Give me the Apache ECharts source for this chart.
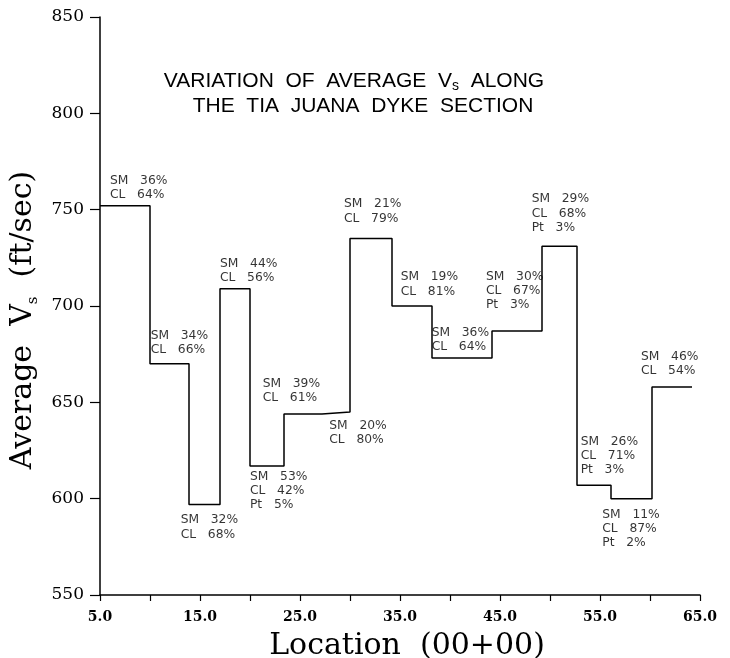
<!DOCTYPE html>
<html><head><meta charset="utf-8">
<script src="https://cdn.jsdelivr.net/npm/echarts@6/dist/echarts.min.js"></script>
<style>html,body{margin:0;padding:0;background:#fff}#c{width:730px;height:658px}</style>
</head><body><div id="c"></div>
<script>
// Segment boundaries along the dyke (Location, 00+00) and average Vs per segment (ft/sec)
const boundaries = [5, 10, 13.9, 17, 20, 23.4, 27.2, 30, 34.2, 38.2, 44.2, 49.2, 52.7, 56.1, 60.2, 64.2];
const avgVs = [752, 670, 597, 709, 617, 644, 645, 735, 700, 673, 687, 731, 607, 600, 658];

// Soil composition annotations (text, anchor location, anchor Vs)
const annotTexts = [
  "SM   36%\nCL   64%",
  "SM   34%\nCL   66%",
  "SM   32%\nCL   68%",
  "SM   44%\nCL   56%",
  "SM   53%\nCL   42%\nPt   5%",
  "SM   39%\nCL   61%",
  "SM   20%\nCL   80%",
  "SM   21%\nCL   79%",
  "SM   19%\nCL   81%",
  "SM   36%\nCL   64%",
  "SM   30%\nCL   67%\nPt   3%",
  "SM   29%\nCL   68%\nPt   3%",
  "SM   26%\nCL   71%\nPt   3%",
  "SM   11%\nCL   87%\nPt   2%",
  "SM   46%\nCL   54%"
];
const annotX = [6.0, 10.07, 13.07, 17.0, 20.0, 21.27, 27.93, 29.4, 35.07, 38.17, 43.6, 48.17, 53.07, 55.23, 59.1];
const annotY = [768.7, 688.2, 592.6, 725.5, 615.2, 663.3, 641.7, 756.6, 718.7, 690, 719, 759.2, 633.4, 595.4, 677.5];

const xTickLabels = ["5.0", "15.0", "25.0", "35.0", "45.0", "55.0", "65.0"];
const yTickLabels = ["550", "600", "650", "700", "750", "800", "850"];

const stepData = boundaries.slice(0, avgVs.length).map((b, i) => [b, avgVs[i]]);
stepData.push([boundaries[boundaries.length - 1], avgVs[avgVs.length - 1]]);

const chart = echarts.init(document.getElementById('c'), null, {renderer: 'canvas'});
chart.setOption({
  backgroundColor: '#fff',
  animation: false,
  grid: {left: 100, right: 30, top: 17, bottom: 63, containLabel: false, outerBoundsMode: 'none'},
  graphic: [
    {type: 'text', x: 354, y: 81, silent: true,
     style: {text: 'VARIATION  OF  AVERAGE  V{s|s}  ALONG', align: 'center', verticalAlign: 'middle',
       fontFamily: 'Liberation Sans', fontSize: 21, lineHeight: 25, fill: '#000',
       rich: {s: {fontFamily: 'Liberation Sans', fontSize: 14, lineHeight: 14, verticalAlign: 'bottom', fill: '#000'}}}},
    {type: 'text', x: 363, y: 106, silent: true,
     style: {text: 'THE  TIA  JUANA  DYKE  SECTION', align: 'center', verticalAlign: 'middle',
       fontFamily: 'Liberation Sans', fontSize: 21, lineHeight: 25, fill: '#000'}}
  ],
  xAxis: {
    type: 'value', min: 5, max: 65, interval: 5,
    name: 'Location  (00+00)', nameLocation: 'middle', nameGap: 28,
    nameTextStyle: {fontFamily: 'DejaVu Serif', fontSize: 30, lineHeight: 34, color: '#000', verticalAlign: 'top', padding: [0, 0, 0, 14]},
    axisLine: {show: true, onZero: false, lineStyle: {color: '#000', width: 1.5}},
    axisTick: {show: true, length: 6, lineStyle: {color: '#000', width: 1.2}},
    axisLabel: {
      margin: 15, color: '#000', fontFamily: 'DejaVu Serif', fontWeight: 'bold', fontSize: 14,
      formatter: function (v) {
        const idx = xTickLabels.indexOf(v.toFixed(1));
        return idx >= 0 ? xTickLabels[idx] : '';
      }
    },
    splitLine: {show: false}
  },
  yAxis: {
    type: 'value', min: 550, max: 850, interval: 50,
    name: 'Average  V{s|s}  (ft/sec)', nameLocation: 'middle', nameGap: 57, nameRotate: 90,
    nameTextStyle: {fontFamily: 'DejaVu Serif', fontSize: 30, color: '#000', lineHeight: 34, padding: [0, 28, 0, 0],
      rich: {s: {fontFamily: 'DejaVu Serif', fontSize: 15, lineHeight: 15, verticalAlign: 'bottom', color: '#000'}}},
    axisLine: {show: true, lineStyle: {color: '#000', width: 1.5}},
    axisTick: {show: true, length: 10, lineStyle: {color: '#000', width: 1.2}},
    axisLabel: {
      margin: 16, color: '#000', fontFamily: 'DejaVu Serif', fontSize: 17,
      formatter: function (v) {
        const idx = yTickLabels.indexOf(String(Math.round(v)));
        return idx >= 0 ? yTickLabels[idx] : '';
      }
    },
    splitLine: {show: false}
  },
  series: [
    {
      type: 'line', step: 'end', data: stepData, showSymbol: false, symbol: 'none',
      lineStyle: {color: '#000', width: 1.5}, silent: true, clip: false
    },
    {
      type: 'scatter', symbolSize: 0.1, itemStyle: {color: 'rgba(0,0,0,0)'}, silent: true,
      data: annotX.map((x, i) => [x, annotY[i]]),
      label: {
        show: true, position: [0, 0], align: 'left', verticalAlign: 'top',
        color: '#000', fontFamily: 'DejaVu Sans', fontSize: 12.3, lineHeight: 14.3,
        formatter: function (p) { return annotTexts[p.dataIndex]; }
      }
    }
  ]
});
</script>
</body></html>
